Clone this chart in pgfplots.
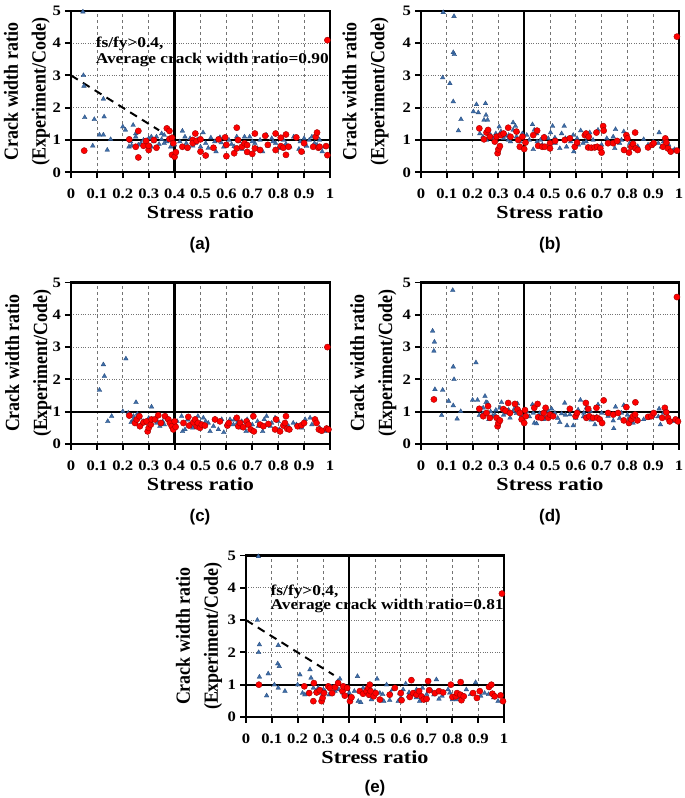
\documentclass[border=0pt]{standalone}
\usepackage{fontspec}
\setmainfont{Liberation Serif}
\newfontfamily\sansf{Liberation Sans}
\usepackage{pgfplots}
\pgfplotsset{compat=1.18}
\definecolor{tri}{RGB}{62,110,168}
\definecolor{tridark}{RGB}{40,75,125}
\definecolor{dotred}{RGB}{255,0,0}
\definecolor{dotedge}{RGB}{160,0,0}
\tikzset{annot/.style={anchor=west, font=\fontsize{15}{15}\selectfont\bfseries, xscale=1.16}}
\pgfplotsset{
  panel/.style={
    scale only axis, width=259bp, height=161.5bp,
    anchor=south west, clip=false,
    xmin=0, xmax=1, ymin=0, ymax=5,
    xtick={0,0.1,0.2,0.3,0.4,0.5,0.6,0.7,0.8,0.9,1},
    xticklabels={0,0.1,0.2,0.3,0.4,0.5,0.6,0.7,0.8,0.9,1},
    ytick={0,1,2,3,4,5},
    yticklabels={0,1,2,3,4,5},
    xtick pos=bottom, ytick pos=left,
    tick align=outside,
    major tick length=6bp,
    tick style={black, line width=2pt},
    axis line style={black, line width=2.2pt},
    ticklabel style={font=\fontsize{14.5}{14.5}\selectfont\bfseries, xscale=1.15},
    xticklabel style={yshift=-7bp},
    xmajorgrids, ymajorgrids,
    x grid style={black!55, dashed, line width=0.8pt},
    y grid style={black!55, dotted, line width=1pt},
    xlabel={Stress ratio},
    xlabel style={font=\fontsize{18.5}{18.5}\selectfont\bfseries, xscale=1.2, at={(axis description cs:0.5,-0.248)}, anchor=center},
    ylabel={Crack width ratio\\(Experiment/Code)},
    ylabel style={font=\fontsize{18}{25}\selectfont\bfseries, align=center, anchor=center, yscale=1.12},
  },
  tris/.style={only marks, mark=triangle*, mark size=2.7pt, mark options={fill=tri, draw=tridark, line width=0.3pt}},
  dots/.style={only marks, mark=*, mark size=3.1pt, mark options={fill=dotred, draw=dotedge, line width=0.4pt}},
  refline/.style={black, line width=2.3pt, forget plot},
}
\newcommand{\reflines}{%
  \addplot[refline] coordinates {(0.4,0) (0.4,5)};
  \addplot[refline] coordinates {(0,1) (1,1)};
}
\begin{document}
\begin{tikzpicture}
\useasboundingbox (0,0) rectangle (685bp,798bp);
% ---------------- (a)
\begin{axis}[panel, at={(71bp,625.7bp)}, ylabel style={at={(axis description cs:-0.17,0.5)}}]
\reflines
\addplot[black, line width=2pt, dash pattern=on 8pt off 6pt] coordinates {(0,3) (0.34,1.3)};
\addplot[tris] coordinates {
(0.046,4.97)(0.048,3.0)(0.05,2.67)(0.053,1.7)(0.084,0.82)(0.09,1.64)(0.11,1.16)(0.125,1.16)(0.125,2.27)(0.128,1.72)(0.14,0.69)(0.153,1.02)(0.20,1.41)(0.21,1.31)(0.224,0.79)(0.234,0.82)(0.24,1.46)(0.25,1.2)(0.25,1.1)(0.27,0.9)(0.28,1.0)(0.29,0.93)(0.31,1.1)(0.31,0.79)(0.32,0.95)(0.34,0.87)(0.35,1.02)(0.35,1.2)(0.36,1.15)(0.37,0.95)(0.385,0.79)(0.40,0.85)(0.43,1.28)(0.44,1.1)(0.445,0.9)(0.46,1.05)(0.48,0.9)(0.50,0.79)(0.51,1.23)(0.52,0.9)(0.54,1.07)(0.555,0.95)(0.56,0.64)(0.575,1.08)(0.59,0.79)(0.61,1.0)(0.62,0.87)(0.64,1.1)(0.65,0.95)(0.67,1.1)(0.68,0.64)(0.69,1.1)(0.71,0.9)(0.72,0.74)(0.73,1.0)(0.74,0.64)(0.755,1.15)(0.775,1.05)(0.79,0.9)(0.80,0.74)(0.82,1.0)(0.845,0.79)(0.86,1.1)(0.885,0.95)(0.91,0.81)(0.92,1.0)(0.93,1.1)(0.94,0.9)(0.96,1.0)(0.97,0.64)(0.98,0.79)
(0.23,0.95)(0.26,0.85)(0.30,1.05)(0.33,1.1)(0.36,0.9)(0.42,0.95)(0.47,0.82)(0.49,1.02)(0.53,0.75)(0.58,0.92)(0.63,0.8)(0.66,0.72)(0.70,0.95)(0.76,0.82)(0.78,0.95)(0.83,0.88)(0.88,0.72)(0.90,1.05)(0.95,0.85)
};
\addplot[dots] coordinates {
(0.051,0.67)(0.225,1.02)(0.25,0.79)(0.26,0.46)(0.26,1.28)(0.28,0.82)(0.29,0.97)(0.30,0.69)(0.30,0.82)(0.32,1.0)(0.33,0.76)(0.37,1.36)(0.38,1.28)(0.38,1.03)(0.39,1.07)(0.39,0.54)(0.395,0.9)(0.40,0.48)(0.405,0.62)(0.43,0.79)(0.45,0.76)(0.47,1.0)(0.47,0.9)(0.48,1.2)(0.485,0.97)(0.50,0.64)(0.50,1.02)(0.52,0.52)(0.55,0.76)(0.57,1.02)(0.595,1.08)(0.60,0.5)(0.60,0.85)(0.63,0.59)(0.64,0.74)(0.64,1.38)(0.645,1.0)(0.66,0.79)(0.67,0.9)(0.68,0.63)(0.68,0.84)(0.70,0.57)(0.71,0.74)(0.71,1.2)(0.73,0.69)(0.75,1.13)(0.76,0.85)(0.79,1.2)(0.79,0.69)(0.81,0.81)(0.81,1.07)(0.82,0.76)(0.83,1.17)(0.83,0.54)(0.84,0.79)(0.87,1.08)(0.89,0.64)(0.90,0.9)(0.935,0.79)(0.945,1.1)(0.95,1.23)(0.955,0.76)(0.96,0.79)(0.985,0.81)(0.99,0.53)(0.99,4.09)
};
\node[annot] at (axis cs:0.08,3.99) {fs/fy\textgreater0.4,};
\node[annot] at (axis cs:0.08,3.49) {Average crack width ratio=0.90};
\end{axis}
% ---------------- (b)
\begin{axis}[panel, width=258bp, at={(421bp,625.7bp)}, ylabel style={at={(axis description cs:-0.215,0.5)}}]
\reflines
\addplot[tris] coordinates {
(0.086,4.95)(0.084,2.93)(0.112,2.75)(0.128,4.83)(0.125,3.71)(0.129,3.65)(0.125,2.19)(0.145,1.29)(0.155,1.64)(0.203,1.88)(0.215,2.1)(0.222,1.85)(0.25,2.13)(0.252,1.77)(0.244,1.62)(0.258,1.62)(0.228,1.2)(0.254,1.0)(0.28,1.05)(0.303,1.41)(0.31,1.26)(0.318,1.2)(0.33,1.12)(0.338,1.0)(0.347,0.95)(0.357,1.54)(0.366,1.43)(0.357,1.31)(0.374,1.26)(0.383,0.95)(0.393,1.2)(0.432,1.48)(0.439,1.31)(0.448,1.2)(0.435,0.71)(0.463,1.0)(0.493,1.05)(0.502,1.23)(0.51,1.43)(0.519,1.07)(0.538,0.74)(0.545,1.2)(0.555,1.43)(0.564,0.79)(0.59,1.15)(0.592,0.64)(0.605,1.05)(0.619,1.29)(0.628,0.9)(0.641,1.1)(0.654,1.23)(0.667,1.0)(0.686,1.31)(0.725,0.97)(0.745,1.1)(0.751,0.74)(0.754,1.33)(0.777,1.0)(0.786,1.26)(0.809,0.9)(0.822,0.79)(0.863,1.02)(0.90,0.95)(0.923,1.23)(0.932,0.79)(0.94,0.95)(0.977,0.67)(0.983,0.71)
(0.24,1.1)(0.27,1.15)(0.29,1.2)(0.32,1.05)(0.34,1.15)(0.37,1.1)(0.41,1.15)(0.42,1.0)(0.45,0.95)(0.47,0.85)(0.48,1.1)(0.52,0.9)(0.56,1.05)(0.58,0.95)(0.61,0.85)(0.64,0.95)(0.67,0.75)(0.70,0.85)(0.72,1.05)(0.77,0.9)(0.80,1.05)(0.84,0.8)(0.88,0.85)(0.92,0.9)(0.96,0.85)
};
\addplot[dots] coordinates {
(0.226,1.36)(0.244,1.02)(0.254,1.23)(0.26,1.31)(0.267,1.1)(0.286,0.95)(0.293,1.1)(0.297,0.59)(0.30,0.71)(0.306,0.81)(0.31,1.15)(0.32,1.2)(0.338,1.38)(0.347,1.1)(0.37,1.26)(0.377,1.0)(0.383,0.79)(0.393,1.1)(0.40,0.72)(0.405,0.92)(0.435,1.15)(0.45,1.29)(0.454,0.82)(0.47,0.79)(0.477,1.08)(0.48,0.79)(0.50,0.9)(0.50,0.74)(0.52,0.97)(0.557,1.0)(0.577,1.05)(0.596,0.79)(0.605,0.92)(0.635,1.15)(0.64,1.2)(0.648,0.77)(0.65,1.1)(0.66,0.76)(0.673,0.77)(0.68,1.23)(0.683,0.79)(0.695,0.74)(0.70,0.61)(0.706,1.43)(0.708,1.29)(0.725,0.9)(0.745,0.9)(0.76,0.97)(0.787,0.69)(0.796,1.15)(0.80,1.05)(0.806,0.61)(0.815,0.79)(0.822,0.88)(0.83,1.23)(0.832,0.74)(0.84,0.69)(0.88,0.77)(0.895,0.85)(0.902,0.9)(0.938,0.79)(0.947,1.05)(0.951,0.92)(0.957,0.74)(0.968,0.64)(0.992,0.67)(0.992,4.2)
};
\end{axis}
% ---------------- (c)
\begin{axis}[panel, at={(71bp,354bp)}, ylabel style={at={(axis description cs:-0.165,0.5)}}]
\reflines
\addplot[tris] coordinates {
(0.11,1.67)(0.125,2.46)(0.129,2.1)(0.142,0.70)(0.157,0.86)(0.20,1.01)(0.212,2.64)(0.221,0.96)(0.232,0.67)(0.241,0.86)(0.251,1.29)(0.256,0.93)(0.266,0.81)(0.279,0.70)(0.292,0.65)(0.311,1.15)(0.318,0.76)(0.331,0.65)(0.343,0.55)(0.354,0.70)(0.367,0.86)(0.373,0.76)(0.427,0.86)(0.431,0.39)(0.44,0.45)(0.459,0.60)(0.479,0.70)(0.49,0.86)(0.511,0.81)(0.53,0.65)(0.537,0.39)(0.556,0.76)(0.569,0.45)(0.582,0.76)(0.59,0.36)(0.614,0.76)(0.627,0.60)(0.642,0.65)(0.659,0.70)(0.676,0.39)(0.68,0.76)(0.723,0.55)(0.74,0.39)(0.746,0.76)(0.755,0.86)(0.775,0.65)(0.788,0.81)(0.804,0.45)(0.826,0.60)(0.858,0.65)(0.904,0.76)(0.923,0.81)(0.946,0.65)(0.98,0.39)
(0.24,0.75)(0.27,0.6)(0.30,0.8)(0.33,0.75)(0.36,0.6)(0.39,0.65)(0.41,0.7)(0.45,0.75)(0.47,0.5)(0.50,0.65)(0.52,0.7)(0.55,0.55)(0.60,0.6)(0.63,0.75)(0.66,0.5)(0.70,0.6)(0.72,0.7)(0.77,0.55)(0.80,0.7)(0.84,0.55)(0.87,0.6)(0.89,0.5)(0.93,0.6)(0.96,0.5)
};
\addplot[dots] coordinates {
(0.225,0.88)(0.247,0.65)(0.254,0.76)(0.264,0.86)(0.266,0.55)(0.28,0.67)(0.292,0.70)(0.296,0.39)(0.30,0.5)(0.308,0.6)(0.311,0.76)(0.324,0.76)(0.337,0.89)(0.347,0.65)(0.363,0.86)(0.376,0.76)(0.382,0.65)(0.389,0.55)(0.395,0.45)(0.40,0.70)(0.404,0.53)(0.434,0.65)(0.453,0.84)(0.456,0.57)(0.472,0.67)(0.479,0.76)(0.485,0.55)(0.49,0.65)(0.498,0.5)(0.505,0.6)(0.517,0.57)(0.556,0.76)(0.575,0.70)(0.604,0.57)(0.609,0.65)(0.64,0.81)(0.646,0.55)(0.653,0.65)(0.665,0.52)(0.678,0.70)(0.685,0.60)(0.694,0.45)(0.704,0.86)(0.706,0.39)(0.73,0.6)(0.743,0.55)(0.762,0.62)(0.788,0.45)(0.792,0.76)(0.807,0.39)(0.82,0.57)(0.826,0.65)(0.83,0.86)(0.835,0.47)(0.843,0.45)(0.875,0.55)(0.89,0.58)(0.90,0.65)(0.942,0.76)(0.948,0.65)(0.957,0.45)(0.968,0.41)(0.987,0.48)(0.994,0.45)(0.99,3.0)
};
\end{axis}
% ---------------- (d)
\begin{axis}[panel, width=258bp, at={(421bp,354bp)}, ylabel style={at={(axis description cs:-0.185,0.5)}}]
\reflines
\addplot[tris] coordinates {
(0.045,3.5)(0.052,3.16)(0.05,2.88)(0.054,1.69)(0.084,1.67)(0.08,0.89)(0.107,1.33)(0.123,4.76)(0.125,2.39)(0.128,2.0)(0.125,1.19)(0.14,0.78)(0.154,1.01)(0.20,1.36)(0.213,2.52)(0.219,1.36)(0.226,0.89)(0.241,1.12)(0.248,1.48)(0.252,1.29)(0.258,1.27)(0.263,0.76)(0.277,0.86)(0.286,0.91)(0.306,1.12)(0.312,1.29)(0.323,1.01)(0.332,0.96)(0.345,0.81)(0.357,1.01)(0.364,1.12)(0.374,1.25)(0.39,0.88)(0.432,1.22)(0.435,0.96)(0.439,0.65)(0.448,0.63)(0.458,0.86)(0.474,0.76)(0.493,1.01)(0.506,1.09)(0.519,0.96)(0.538,0.67)(0.545,0.94)(0.557,1.27)(0.566,0.57)(0.577,0.91)(0.59,0.57)(0.609,1.06)(0.618,1.36)(0.631,0.96)(0.641,1.12)(0.657,1.01)(0.674,0.6)(0.686,1.22)(0.70,0.96)(0.725,0.86)(0.745,0.72)(0.747,0.48)(0.754,1.15)(0.777,0.96)(0.786,1.2)(0.809,0.81)(0.822,0.65)(0.863,0.76)(0.90,0.86)(0.923,1.09)(0.928,0.6)(0.94,0.96)(0.977,0.70)(0.983,0.76)
(0.24,0.95)(0.27,1.0)(0.29,1.05)(0.32,0.9)(0.34,1.05)(0.37,0.95)(0.41,1.0)(0.42,0.85)(0.46,0.95)(0.48,0.8)(0.50,0.9)(0.53,0.8)(0.56,0.9)(0.60,0.8)(0.63,0.85)(0.66,0.75)(0.68,0.85)(0.72,0.95)(0.77,0.8)(0.80,0.9)(0.84,0.75)(0.88,0.8)(0.92,0.85)(0.96,0.8)
};
\addplot[dots] coordinates {
(0.05,1.38)(0.226,1.09)(0.241,0.86)(0.254,0.96)(0.26,1.17)(0.267,0.81)(0.293,0.81)(0.297,0.55)(0.30,0.65)(0.306,0.73)(0.319,1.08)(0.328,1.03)(0.338,1.27)(0.345,0.96)(0.364,1.24)(0.374,1.07)(0.383,0.96)(0.39,0.76)(0.40,0.65)(0.403,1.05)(0.406,0.86)(0.439,1.12)(0.452,1.24)(0.454,0.83)(0.467,0.81)(0.476,0.96)(0.483,1.12)(0.493,0.81)(0.50,0.91)(0.512,0.86)(0.577,1.09)(0.599,0.86)(0.605,0.96)(0.639,1.27)(0.641,0.81)(0.648,1.09)(0.652,0.86)(0.667,0.81)(0.68,1.12)(0.683,0.81)(0.693,0.76)(0.702,0.65)(0.708,1.35)(0.725,0.96)(0.745,0.91)(0.764,0.96)(0.786,0.73)(0.796,1.14)(0.806,0.65)(0.815,0.76)(0.822,0.86)(0.83,0.91)(0.831,1.29)(0.839,0.73)(0.88,0.84)(0.893,0.86)(0.902,0.96)(0.935,0.81)(0.945,1.12)(0.951,0.98)(0.957,0.81)(0.964,0.70)(0.987,0.76)(0.996,0.70)(0.992,4.55)
};
\end{axis}
% ---------------- (e)
\begin{axis}[panel, width=258bp, at={(246bp,81bp)}, ylabel style={at={(axis description cs:-0.182,0.5)}}]
\reflines
\addplot[black, line width=2pt, dash pattern=on 8pt off 6pt] coordinates {(0,3) (0.34,1.3)};
\addplot[tris] coordinates {
(0.048,4.97)(0.044,3.0)(0.052,2.24)(0.049,2.0)(0.052,1.24)(0.08,0.66)(0.086,1.34)(0.11,1.0)(0.123,1.65)(0.129,1.57)(0.125,2.22)(0.125,0.9)(0.151,0.80)(0.209,1.31)(0.219,0.74)(0.228,0.69)(0.248,1.47)(0.252,1.21)(0.261,0.9)(0.28,0.9)(0.293,0.74)(0.306,0.80)(0.322,0.69)(0.332,0.93)(0.345,0.80)(0.355,1.1)(0.364,1.18)(0.377,0.74)(0.387,0.9)(0.432,1.26)(0.435,0.49)(0.445,0.45)(0.454,0.9)(0.486,0.54)(0.508,1.18)(0.519,0.74)(0.534,0.49)(0.545,1.0)(0.557,0.52)(0.568,0.85)(0.59,0.49)(0.596,0.74)(0.609,0.85)(0.619,1.03)(0.632,0.76)(0.645,0.69)(0.661,0.85)(0.673,0.49)(0.684,0.9)(0.728,0.69)(0.738,1.16)(0.748,0.56)(0.783,0.85)(0.80,0.54)(0.815,0.54)(0.854,0.85)(0.89,1.07)(0.925,0.74)(0.977,0.49)
(0.20,1.0)(0.24,0.75)(0.27,0.8)(0.30,0.85)(0.33,0.7)(0.36,0.85)(0.40,0.75)(0.42,0.8)(0.46,0.75)(0.48,0.65)(0.50,0.8)(0.53,0.7)(0.56,0.75)(0.60,0.6)(0.63,0.65)(0.66,0.6)(0.70,0.7)(0.72,0.8)(0.76,0.65)(0.79,0.75)(0.83,0.6)(0.87,0.7)(0.91,0.65)(0.94,0.7)(0.96,0.6)
};
\addplot[dots] coordinates {
(0.05,1.0)(0.226,0.95)(0.245,0.74)(0.261,0.49)(0.263,1.05)(0.274,0.76)(0.286,0.83)(0.293,0.49)(0.297,0.59)(0.302,0.74)(0.319,0.95)(0.325,0.9)(0.334,0.74)(0.345,0.92)(0.357,1.05)(0.374,0.8)(0.377,0.95)(0.383,0.66)(0.392,0.9)(0.403,0.49)(0.409,0.61)(0.441,0.80)(0.454,0.72)(0.467,0.80)(0.474,0.9)(0.48,1.0)(0.477,0.69)(0.483,0.80)(0.495,0.64)(0.503,0.74)(0.519,0.54)(0.557,0.69)(0.577,0.9)(0.60,0.74)(0.603,0.52)(0.635,0.62)(0.641,1.14)(0.648,0.74)(0.661,0.69)(0.671,0.80)(0.68,0.64)(0.689,0.54)(0.70,0.56)(0.706,1.11)(0.71,0.83)(0.732,0.74)(0.748,0.80)(0.764,0.76)(0.794,1.0)(0.80,0.62)(0.813,0.64)(0.818,0.74)(0.831,0.69)(0.832,1.08)(0.835,0.52)(0.844,0.64)(0.88,0.74)(0.895,0.59)(0.906,0.80)(0.942,0.93)(0.951,1.0)(0.955,0.72)(0.964,0.64)(0.987,0.67)(0.996,0.49)(0.992,3.82)
};
\node[annot] at (axis cs:0.08,3.89) {fs/fy\textgreater0.4,};
\node[annot] at (axis cs:0.08,3.45) {Average crack width ratio=0.81};
\end{axis}
% panel labels
\node[font=\sansf\bfseries\fontsize{17}{17}\selectfont] at (200bp,553bp) {(a)};
\node[font=\sansf\bfseries\fontsize{17}{17}\selectfont] at (550bp,553bp) {(b)};
\node[font=\sansf\bfseries\fontsize{17}{17}\selectfont] at (200bp,281bp) {(c)};
\node[font=\sansf\bfseries\fontsize{17}{17}\selectfont] at (550bp,281bp) {(d)};
\node[font=\sansf\bfseries\fontsize{17}{17}\selectfont] at (375bp,10bp) {(e)};
\end{tikzpicture}
\end{document}
